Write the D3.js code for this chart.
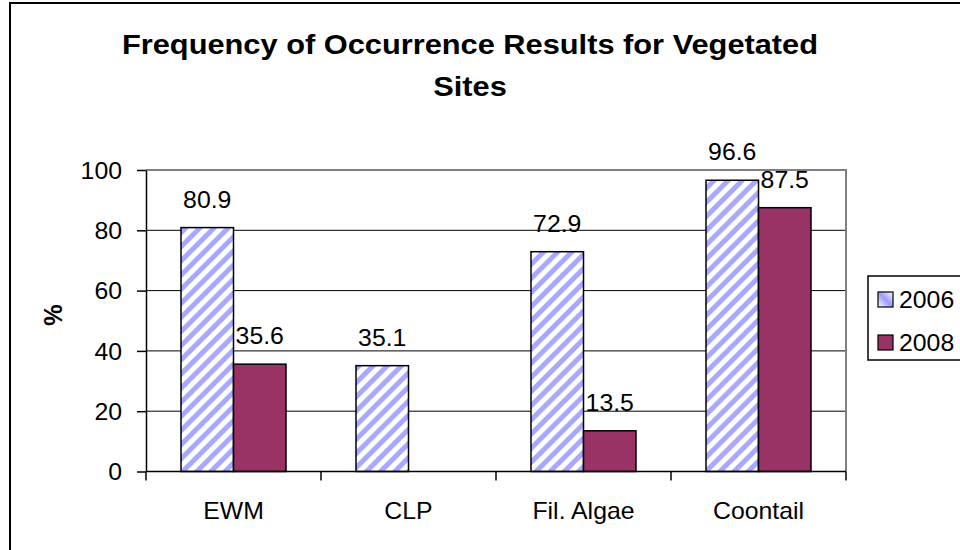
<!DOCTYPE html>
<html>
<head>
<meta charset="utf-8">
<script src="https://cdn.jsdelivr.net/npm/d3@7/dist/d3.min.js"></script>
<style>
  html, body { margin: 0; padding: 0; background: #fff; }
  svg { display: block; }
  text { font-family: "Liberation Sans", Arial, sans-serif; fill: #000; }
</style>
</head>
<body>
<svg id="chart" width="960" height="550"></svg>
<script>
// ---- data ----
const categories = ["EWM", "CLP", "Fil. Algae", "Coontail"];
const seriesNames = ["2006", "2008"];
const values2006 = [80.9, 35.1, 72.9, 96.6];
const values2008 = [35.6, null, 13.5, 87.5];
const yTicks = [0, 20, 40, 60, 80, 100];
const titleLines = ["Frequency of Occurrence Results for Vegetated", "Sites"];
const yAxisLabel = "%";

// ---- layout ----
const W = 960, H = 550;
const SX = 1.08; // horizontal text stretch of the original picture
const FS = 23;   // base font size
const plot = { left: 146, right: 846, top: 170, bottom: 471.5 };

const svg = d3.select("#chart");

const defs = svg.append("defs");
const pat = defs.append("pattern")
  .attr("id", "hatch")
  .attr("patternUnits", "userSpaceOnUse")
  .attr("width", 10).attr("height", 10)
  .attr("patternTransform", "rotate(45)");
pat.append("rect").attr("width", 10).attr("height", 10).attr("fill", "#ffffff");
pat.append("rect").attr("x", 0).attr("width", 5).attr("height", 10).attr("fill", "#a8a8ff");

const colors = { "2006": "url(#hatch)", "2008": "#993366" };

function stext(g, x, y, str, opts = {}) {
  const t = g.append("text")
    .attr("transform", `translate(${x},${y}) scale(${SX},1)` + (opts.rotate ? ` rotate(${opts.rotate})` : ""))
    .attr("font-size", opts.size || FS)
    .attr("font-weight", opts.bold ? "bold" : "normal")
    .attr("text-anchor", opts.anchor || "start")
    .text(str);
  if (opts.baseline) t.attr("dominant-baseline", opts.baseline);
  return t;
}

// outer chart border
svg.append("rect")
  .attr("x", 10).attr("y", 3)
  .attr("width", W + 20).attr("height", H + 20)
  .attr("fill", "none").attr("stroke", "#000").attr("stroke-width", 2);

// title
titleLines.forEach((l, i) => {
  stext(svg, 470, 54 + i * 42, l, { size: 28.5, bold: true, anchor: "middle" });
});

// scales
const x = d3.scaleBand().domain(categories).range([plot.left, plot.right])
  .paddingInner(0.4).paddingOuter(0.2);
const x1 = d3.scaleBand().domain(seriesNames).range([0, x.bandwidth()]);
const y = d3.scaleLinear().domain([0, 100]).range([plot.bottom, plot.top]);
const xb = d3.scaleLinear().domain([0, categories.length]).range([plot.left, plot.right]);

// gridlines
svg.append("g").selectAll("line")
  .data(yTicks.filter(d => d > 0 && d < 100))
  .join("line")
  .attr("x1", plot.left).attr("x2", plot.right)
  .attr("y1", d => y(d)).attr("y2", d => y(d))
  .attr("stroke", "#000").attr("stroke-width", 1);

// plot area border (top, right) in grey
svg.append("path")
  .attr("d", `M${plot.left},${y(100)}H${plot.right}V${plot.bottom}`)
  .attr("fill", "none").attr("stroke", "#808080").attr("stroke-width", 2);

// bars
const rows = categories.map((c, i) => ({ cat: c, vals: [
  { s: "2006", v: values2006[i] },
  { s: "2008", v: values2008[i] }
]}));

const gBars = svg.append("g");
rows.forEach(r => {
  r.vals.forEach(d => {
    if (d.v == null) return;
    gBars.append("rect")
      .attr("x", x(r.cat) + x1(d.s))
      .attr("y", y(d.v))
      .attr("width", x1.bandwidth())
      .attr("height", y(0) - y(d.v))
      .attr("fill", colors[d.s])
      .attr("stroke", "#000").attr("stroke-width", 1.5);
  });
});

// data labels
rows.forEach(r => {
  r.vals.forEach(d => {
    if (d.v == null) return;
    stext(svg, x(r.cat) + x1(d.s) + x1.bandwidth() / 2, y(d.v) - 20, d.v.toFixed(1),
      { anchor: "middle" });
  });
});

// y axis
const yAxis = svg.append("g")
  .attr("transform", `translate(${plot.left},0)`)
  .call(d3.axisLeft(y).tickValues(yTicks).tickSizeInner(9).tickSizeOuter(0).tickFormat(d3.format("d")));
yAxis.select(".domain").attr("stroke", "#000").attr("stroke-width", 1.5);
yAxis.selectAll(".tick line").attr("stroke", "#000").attr("stroke-width", 1.5);
yAxis.selectAll(".tick text")
  .attr("x", null).attr("dy", null)
  .attr("transform", `translate(-24,0) scale(${SX},1)`)
  .attr("dominant-baseline", "central")
  .attr("font-size", FS)
  .attr("font-family", "Liberation Sans, Arial, sans-serif")
  .attr("fill", "#000")
  .attr("text-anchor", "end");

// x axis line
svg.append("line")
  .attr("x1", plot.left).attr("x2", plot.right)
  .attr("y1", y(0)).attr("y2", y(0))
  .attr("stroke", "#000").attr("stroke-width", 1.5);
// boundary ticks
svg.append("g").selectAll("line")
  .data(d3.range(categories.length + 1))
  .join("line")
  .attr("x1", d => xb(d)).attr("x2", d => xb(d))
  .attr("y1", y(0)).attr("y2", y(0) + 9)
  .attr("stroke", "#000").attr("stroke-width", 1.5);
// category labels
categories.forEach(c => {
  stext(svg, x(c) + x.bandwidth() / 2, 519, c, { anchor: "middle" });
});

// y axis title
stext(svg, 53, 315, yAxisLabel, { size: 24, bold: true, anchor: "middle", rotate: -90, baseline: "central" });

// legend
const lg = svg.append("g");
lg.append("rect")
  .attr("x", 868).attr("y", 276).attr("width", 140).attr("height", 84)
  .attr("fill", "#fff").attr("stroke", "#000").attr("stroke-width", 1.5);
seriesNames.forEach((s, i) => {
  const yy = 292 + i * 43;
  lg.append("rect")
    .attr("x", 878).attr("y", yy).attr("width", 15).attr("height", 15)
    .attr("fill", s === "2006" ? "url(#hatchLeg)" : colors[s])
    .attr("stroke", "#000").attr("stroke-width", 1.2);
  stext(lg, 899, yy + 16, s);
});
const lgGrad = defs.append("linearGradient").attr("id", "hatchLeg")
  .attr("x1", "0").attr("y1", "1").attr("x2", "1").attr("y2", "0");
lgGrad.append("stop").attr("offset", "0").attr("stop-color", "#ffffff");
lgGrad.append("stop").attr("offset", "0.5").attr("stop-color", "#9a9aff");
lgGrad.append("stop").attr("offset", "1").attr("stop-color", "#ffffff");
</script>
</body>
</html>
